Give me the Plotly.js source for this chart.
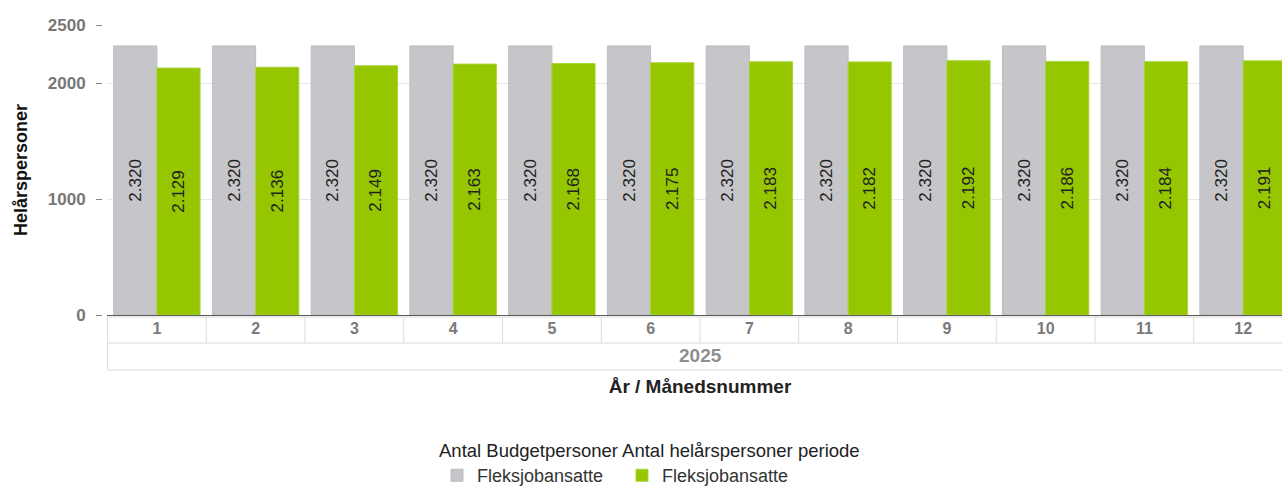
<!DOCTYPE html>
<html>
<head>
<meta charset="utf-8">
<script src="https://cdn.plot.ly/plotly-3.0.1.min.js"></script>
<style>
html,body{margin:0;padding:0;overflow:hidden;background:#fff;}
#chart{width:1300px;height:487px;}
</style>
</head>
<body>
<div id="chart"></div>
<script>
// ---- data ----
const months = ['1','2','3','4','5','6','7','8','9','10','11','12'];
const years = ['2025'];
const budgetValues = [2320, 2320, 2320, 2320, 2320, 2320, 2320, 2320, 2320, 2320, 2320, 2320];
const actualValues = [2129, 2136, 2149, 2163, 2168, 2175, 2183, 2182, 2192, 2186, 2184, 2191];
const seriesNames = ['Fleksjobansatte', 'Fleksjobansatte'];
const yTicks = [0, 1000, 2000, 2500];
const legendTitle = 'Antal Budgetpersoner Antal helårspersoner periode';
const xTitle = 'År / Månedsnummer';
const yTitle = 'Helårspersoner';

const FONT = 'Liberation Sans, Arial, sans-serif';
const W = 1300, H = 487;
const margin = {l: 102, r: 7, t: 25, b: 172, autoexpand: false};
const plotW = W - margin.l - margin.r;
const plotH = H - margin.t - margin.b;
const domStart = 5 / plotW;

const labelFont = {family: FONT, size: 17, color: '#222'};

const traces = [
  {
    type: 'bar', name: seriesNames[0], x: months, y: budgetValues,
    marker: {color: '#c6c5ca', line: {color: '#bdbcc1', width: 1}},
    texttemplate: '%{y:,}', textposition: 'inside', textangle: -90,
    insidetextanchor: 'middle', constraintext: 'none',
    textfont: labelFont, insidetextfont: labelFont,
    hoverinfo: 'skip'
  },
  {
    type: 'bar', name: seriesNames[1], x: months, y: actualValues,
    marker: {color: '#95c600', line: {color: '#a9d63a', width: 1}},
    texttemplate: '%{y:,}', textposition: 'inside', textangle: -90,
    insidetextanchor: 'middle', constraintext: 'none',
    textfont: labelFont, insidetextfont: labelFont,
    hoverinfo: 'skip'
  }
];

// decoration grid under x axis (table-like tick area)
const boxColor = '#dadada';
const shapes = [];
const rowTop = -2, rowMid = -28, rowBot = -55;
function hline(py) {
  shapes.push({type: 'line', xref: 'x domain', yref: 'paper', ysizemode: 'pixel', yanchor: 0,
    x0: 0, x1: 1.02, y0: py, y1: py, line: {color: boxColor, width: 1}});
}
hline(rowTop); hline(rowMid); hline(rowBot);
for (let k = 0; k <= months.length; k++) {
  shapes.push({type: 'line', xref: 'x', yref: 'paper', ysizemode: 'pixel', yanchor: 0,
    x0: k - 0.5, x1: k - 0.5, y0: rowTop, y1: (k === 0 ? rowBot : rowMid),
    line: {color: boxColor, width: 1}});
}

const annotations = [
  {xref: 'x domain', yref: 'paper', x: 0.5, y: 0, yshift: -40, yanchor: 'middle',
   text: years[0], showarrow: false,
   font: {family: FONT, size: 19, color: '#8f8f8f', weight: 'bold'}}
];

const layout = {
  width: W, height: H, margin: margin,
  paper_bgcolor: '#fff', plot_bgcolor: '#fff',
  separators: ',.',
  barmode: 'group', bargap: 0.125, bargroupgap: 0,
  font: {family: FONT, color: '#333'},
  xaxis: {
    type: 'category', domain: [domStart, 1], automargin: false,
    showgrid: false, zeroline: false, showline: false, ticks: '',
    tickfont: {family: FONT, size: 16, color: '#7a7a7a', weight: 'bold'},
    ticklabelstandoff: 2,
    title: {text: xTitle, standoff: 43, font: {family: FONT, size: 19, color: '#222', weight: 'bold'}}
  },
  yaxis: {
    range: [0, 2500], anchor: 'free', position: 0, automargin: false,
    tickvals: yTicks, ticktext: yTicks.map(String),
    ticks: 'outside', ticklen: 6, tickcolor: '#888', tickwidth: 1,
    ticklabelstandoff: 7,
    tickfont: {family: FONT, size: 17, color: '#777', weight: 'bold'},
    showgrid: true, gridcolor: '#e6e6e6', gridwidth: 1,
    zeroline: true, zerolinecolor: '#5a5a5a', zerolinewidth: 1,
    showline: false,
    title: {text: yTitle, standoff: 14, font: {family: FONT, size: 18, color: '#111', weight: 'bold'}}
  },
  showlegend: true,
  legend: {
    orientation: 'h', x: (437 - margin.l) / plotW, xanchor: 'left',
    y: (margin.t + plotH - 433) / plotH, yanchor: 'top',
    font: {family: FONT, size: 18, color: '#333'},
    title: {text: legendTitle, side: 'top', font: {family: FONT, size: 18.5, color: '#222'}},
    bgcolor: 'rgba(0,0,0,0)', traceorder: 'normal',
    entrywidth: 140
  },
  shapes: shapes,
  annotations: annotations
};

Plotly.newPlot('chart', traces, layout, {displayModeBar: false, staticPlot: true});
</script>
</body>
</html>
